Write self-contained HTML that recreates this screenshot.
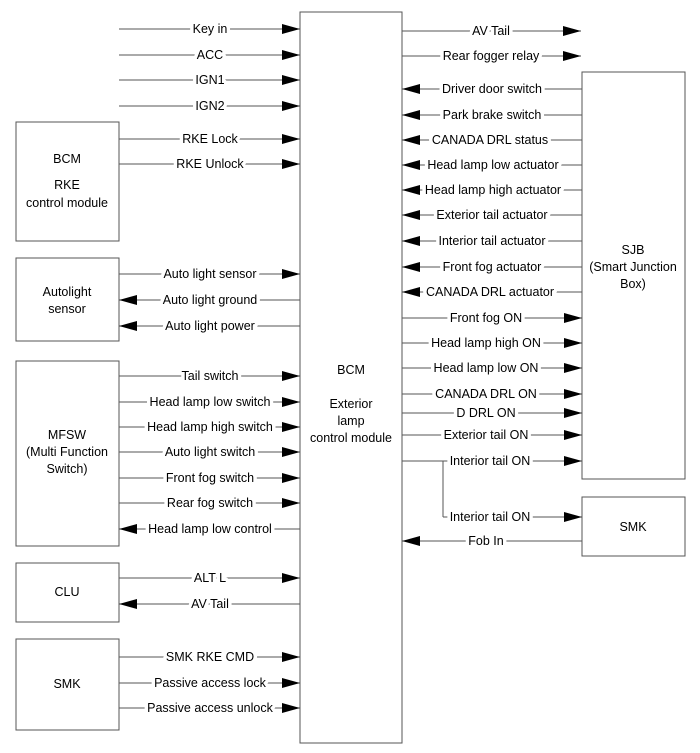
<!DOCTYPE html>
<html><head><meta charset="utf-8"><style>
html,body{margin:0;padding:0;background:#fff}
svg{display:block}
text{font-family:"Liberation Sans",Arial,sans-serif;font-size:12.5px;fill:#000;text-anchor:middle;dominant-baseline:central;paint-order:stroke;stroke:#fff;stroke-width:7px;stroke-linejoin:round}
.n{stroke:none}
line{stroke:#555;stroke-width:1}
rect{fill:#fff;stroke:#555;stroke-width:1}
</style></head><body>
<svg width="700" height="753" viewBox="0 0 700 753" xmlns="http://www.w3.org/2000/svg">
<defs>
<marker id="a" markerUnits="userSpaceOnUse" markerWidth="18" markerHeight="12" refX="18" refY="6" orient="auto"><polygon points="0,1 18,6 0,11" fill="#000"/></marker>
</defs>
<rect x="300" y="12" width="102" height="731"/>
<rect x="16" y="122" width="103" height="119"/>
<rect x="16" y="258" width="103" height="83"/>
<rect x="16" y="361" width="103" height="185"/>
<rect x="16" y="563" width="103" height="59"/>
<rect x="16" y="639" width="103" height="91"/>
<rect x="582" y="72" width="103" height="407"/>
<rect x="582" y="497" width="103" height="59"/>

<text class="n" x="67" y="159">BCM</text>
<text class="n" x="67" y="185">RKE</text>
<text class="n" x="67" y="203">control module</text>
<text class="n" x="67" y="292">Autolight</text>
<text class="n" x="67" y="309">sensor</text>
<text class="n" x="67" y="435">MFSW</text>
<text class="n" x="67" y="452">(Multi Function</text>
<text class="n" x="67" y="469">Switch)</text>
<text class="n" x="67" y="592">CLU</text>
<text class="n" x="67" y="684">SMK</text>
<text class="n" x="351" y="370">BCM</text>
<text class="n" x="351" y="404">Exterior</text>
<text class="n" x="351" y="421">lamp</text>
<text class="n" x="351" y="438">control module</text>
<text class="n" x="633" y="250">SJB</text>
<text class="n" x="633" y="267">(Smart Junction</text>
<text class="n" x="633" y="284">Box)</text>
<text class="n" x="633" y="527">SMK</text>

<g marker-end="url(#a)">
<line x1="119" y1="29" x2="300" y2="29"/>
<line x1="119" y1="55" x2="300" y2="55"/>
<line x1="119" y1="80" x2="300" y2="80"/>
<line x1="119" y1="106" x2="300" y2="106"/>
<line x1="119" y1="139" x2="300" y2="139"/>
<line x1="119" y1="164" x2="300" y2="164"/>
<line x1="119" y1="274" x2="300" y2="274"/>
<line x1="300" y1="300" x2="119" y2="300"/>
<line x1="300" y1="326" x2="119" y2="326"/>
<line x1="119" y1="376" x2="300" y2="376"/>
<line x1="119" y1="402" x2="300" y2="402"/>
<line x1="119" y1="427" x2="300" y2="427"/>
<line x1="119" y1="452" x2="300" y2="452"/>
<line x1="119" y1="478" x2="300" y2="478"/>
<line x1="119" y1="503" x2="300" y2="503"/>
<line x1="300" y1="529" x2="119" y2="529"/>
<line x1="119" y1="578" x2="300" y2="578"/>
<line x1="300" y1="604" x2="119" y2="604"/>
<line x1="119" y1="657" x2="300" y2="657"/>
<line x1="119" y1="683" x2="300" y2="683"/>
<line x1="119" y1="708" x2="300" y2="708"/>

<line x1="402" y1="31" x2="581" y2="31"/>
<line x1="402" y1="56" x2="581" y2="56"/>
<line x1="582" y1="89" x2="402" y2="89"/>
<line x1="582" y1="115" x2="402" y2="115"/>
<line x1="582" y1="140" x2="402" y2="140"/>
<line x1="582" y1="165" x2="402" y2="165"/>
<line x1="582" y1="190" x2="402" y2="190"/>
<line x1="582" y1="215" x2="402" y2="215"/>
<line x1="582" y1="241" x2="402" y2="241"/>
<line x1="582" y1="267" x2="402" y2="267"/>
<line x1="582" y1="292" x2="402" y2="292"/>
<line x1="402" y1="318" x2="582" y2="318"/>
<line x1="402" y1="343" x2="582" y2="343"/>
<line x1="402" y1="368" x2="582" y2="368"/>
<line x1="402" y1="394" x2="582" y2="394"/>
<line x1="402" y1="413" x2="582" y2="413"/>
<line x1="402" y1="435" x2="582" y2="435"/>
<line x1="402" y1="461" x2="582" y2="461"/>
<line x1="443" y1="517" x2="582" y2="517"/>
<line x1="582" y1="541" x2="402" y2="541"/>
</g>
<line x1="443" y1="461" x2="443" y2="517"/>

<text x="210" y="29">Key in</text>
<text x="210" y="55">ACC</text>
<text x="210" y="80">IGN1</text>
<text x="210" y="106">IGN2</text>
<text x="210" y="139">RKE Lock</text>
<text x="210" y="164">RKE Unlock</text>
<text x="210" y="274">Auto light sensor</text>
<text x="210" y="300">Auto light ground</text>
<text x="210" y="326">Auto light power</text>
<text x="210" y="376">Tail switch</text>
<text x="210" y="402">Head lamp low switch</text>
<text x="210" y="427">Head lamp high switch</text>
<text x="210" y="452">Auto light switch</text>
<text x="210" y="478">Front fog switch</text>
<text x="210" y="503">Rear fog switch</text>
<text x="210" y="529">Head lamp low control</text>
<text x="210" y="578">ALT L</text>
<text x="210" y="604">AV Tail</text>
<text x="210" y="657">SMK RKE CMD</text>
<text x="210" y="683">Passive access lock</text>
<text x="210" y="708">Passive access unlock</text>

<text x="491" y="31">AV Tail</text>
<text x="491" y="56">Rear fogger relay</text>
<text x="492" y="89">Driver door switch</text>
<text x="492" y="115">Park brake switch</text>
<text x="490" y="140">CANADA DRL status</text>
<text x="493" y="165">Head lamp low actuator</text>
<text x="493" y="190">Head lamp high actuator</text>
<text x="492" y="215">Exterior tail actuator</text>
<text x="492" y="241">Interior tail actuator</text>
<text x="492" y="267">Front fog actuator</text>
<text x="490" y="292">CANADA DRL actuator</text>
<text x="486" y="318">Front fog ON</text>
<text x="486" y="343">Head lamp high ON</text>
<text x="486" y="368">Head lamp low ON</text>
<text x="486" y="394">CANADA DRL ON</text>
<text x="486" y="413">D DRL ON</text>
<text x="486" y="435">Exterior tail ON</text>
<text x="490" y="461">Interior tail ON</text>
<text x="490" y="517">Interior tail ON</text>
<text x="486" y="541">Fob In</text>
</svg>
</body></html>
